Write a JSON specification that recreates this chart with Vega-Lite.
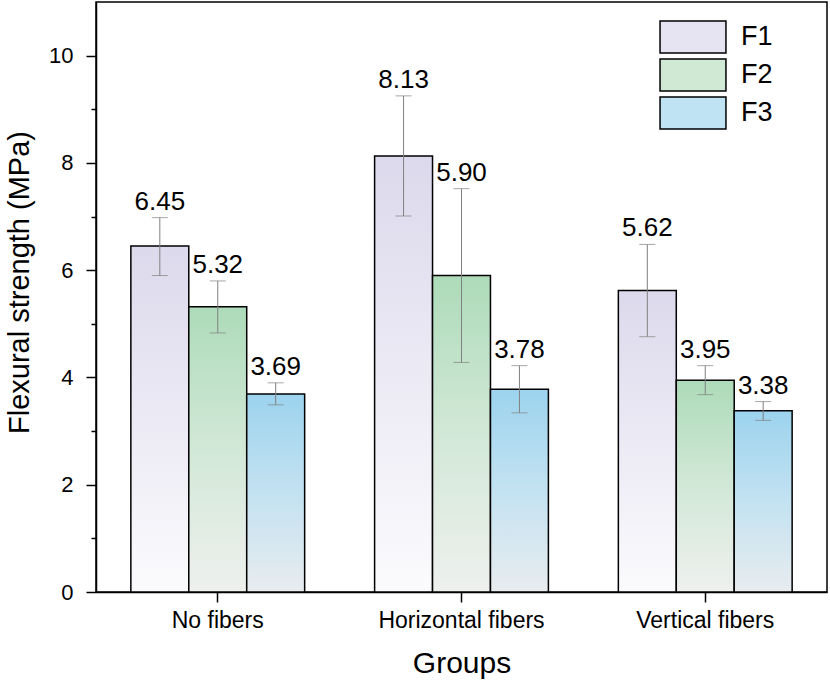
{
  "$schema": "https://vega.github.io/schema/vega-lite/v6.json",
  "width": 731,
  "height": 590,
  "autosize": "none",
  "padding": {"left": 96, "top": 2, "right": 3, "bottom": 95},
  "background": "white",
  "config": {
    "font": "Liberation Sans",
    "view": {"stroke": "black", "strokeWidth": 1.5},
    "axis": {"grid": false, "domainColor": "black", "domainWidth": 1.5, "tickColor": "black", "tickWidth": 1.5, "labelColor": "black", "titleColor": "black", "labelFont": "Liberation Sans", "titleFont": "Liberation Sans", "titleFontWeight": "normal"}
  },
  "data": {
    "values": [
      {"group": "No fibers", "series": "F1", "value": 6.45, "lo": 5.90, "hi": 6.98},
      {"group": "No fibers", "series": "F2", "value": 5.32, "lo": 4.83, "hi": 5.80},
      {"group": "No fibers", "series": "F3", "value": 3.69, "lo": 3.49, "hi": 3.90},
      {"group": "Horizontal fibers", "series": "F1", "value": 8.13, "lo": 7.01, "hi": 9.25},
      {"group": "Horizontal fibers", "series": "F2", "value": 5.90, "lo": 4.28, "hi": 7.52},
      {"group": "Horizontal fibers", "series": "F3", "value": 3.78, "lo": 3.34, "hi": 4.22},
      {"group": "Vertical fibers", "series": "F1", "value": 5.62, "lo": 4.76, "hi": 6.48},
      {"group": "Vertical fibers", "series": "F2", "value": 3.95, "lo": 3.68, "hi": 4.22},
      {"group": "Vertical fibers", "series": "F3", "value": 3.38, "lo": 3.20, "hi": 3.55}
    ]
  },
  "encoding": {
    "x": {
      "field": "group", "type": "nominal", "sort": ["No fibers", "Horizontal fibers", "Vertical fibers"],
      "scale": {"paddingInner": 0.287, "paddingOuter": 0.143},
      "axis": {"title": "Groups", "labelAngle": 0, "labelFontSize": 23, "titleFontSize": 30, "tickSize": 10, "labelPadding": 7, "titlePadding": 16}
    },
    "xOffset": {"field": "series", "type": "nominal", "sort": ["F1", "F2", "F3"], "scale": {"paddingInner": 0, "paddingOuter": 0}}
  },
  "layer": [
    {
      "mark": {"type": "bar", "opacity": 0},
      "encoding": {
        "y": {
          "field": "value", "type": "quantitative",
          "scale": {"domain": [0, 11], "nice": false},
          "axis": {"title": "Flexural strength (MPa)", "values": [0,1,2,3,4,5,6,7,8,9,10], "labelExpr": "datum.value % 2 === 0 ? datum.label : ''", "tickSize": {"condition": {"test": "datum.value % 2 === 0", "value": 10}, "value": 5}, "labelFontSize": 22, "titleFontSize": 29, "labelPadding": 13, "titlePadding": 14, "titleY": 280}
        },
        "fill": {
          "field": "series", "type": "nominal",
          "scale": {"domain": ["F1", "F2", "F3"], "range": ["#e6e4f2", "#cfe9d5", "#c0e3f4"]},
          "legend": {
            "title": null, "orient": "none", "legendX": 580, "legendY": 18,
            "symbolType": "M-2.06,-1L2.06,-1L2.06,1L-2.06,1Z", "symbolSize": 1024,
            "symbolStrokeColor": "black", "symbolStrokeWidth": 1.5, "symbolOpacity": 1,
            "labelFontSize": 27, "labelColor": "black", "labelOffset": 31, "rowPadding": 0
          }
        }
      }
    },
    {
      "transform": [{"filter": "datum.series === 'F1'"}],
      "mark": {"type": "bar", "stroke": "black", "strokeWidth": 1.5, "fill": {"gradient": "linear", "x1": 0, "y1": 0, "x2": 0, "y2": 1, "stops": [{"offset": 0, "color": "#dcd9ec"}, {"offset": 1, "color": "#fbfbfd"}]}},
      "encoding": {"y": {"field": "value", "type": "quantitative"}}
    },
    {
      "transform": [{"filter": "datum.series === 'F2'"}],
      "mark": {"type": "bar", "stroke": "black", "strokeWidth": 1.5, "fill": {"gradient": "linear", "x1": 0, "y1": 0, "x2": 0, "y2": 1, "stops": [{"offset": 0, "color": "#addbb9"}, {"offset": 0.5, "color": "#d2e8d7"}, {"offset": 1, "color": "#eef0ee"}]}},
      "encoding": {"y": {"field": "value", "type": "quantitative"}}
    },
    {
      "transform": [{"filter": "datum.series === 'F3'"}],
      "mark": {"type": "bar", "stroke": "black", "strokeWidth": 1.5, "fill": {"gradient": "linear", "x1": 0, "y1": 0, "x2": 0, "y2": 1, "stops": [{"offset": 0, "color": "#9cd3ee"}, {"offset": 0.5, "color": "#c3e2f1"}, {"offset": 1, "color": "#e8ecef"}]}},
      "encoding": {"y": {"field": "value", "type": "quantitative"}}
    },
    {
      "mark": {"type": "rule", "color": "#808080", "strokeWidth": 1},
      "encoding": {"y": {"field": "lo", "type": "quantitative"}, "y2": {"field": "hi"}}
    },
    {
      "mark": {"type": "tick", "color": "#808080", "thickness": 1, "size": 16},
      "encoding": {"y": {"field": "lo", "type": "quantitative"}}
    },
    {
      "mark": {"type": "tick", "color": "#808080", "thickness": 1, "size": 16},
      "encoding": {"y": {"field": "hi", "type": "quantitative"}}
    },
    {
      "mark": {"type": "text", "fontSize": 26, "baseline": "alphabetic", "dy": -8, "color": "black"},
      "encoding": {"y": {"field": "hi", "type": "quantitative"}, "text": {"field": "value", "type": "quantitative", "format": ".2f"}}
    }
  ]
}
